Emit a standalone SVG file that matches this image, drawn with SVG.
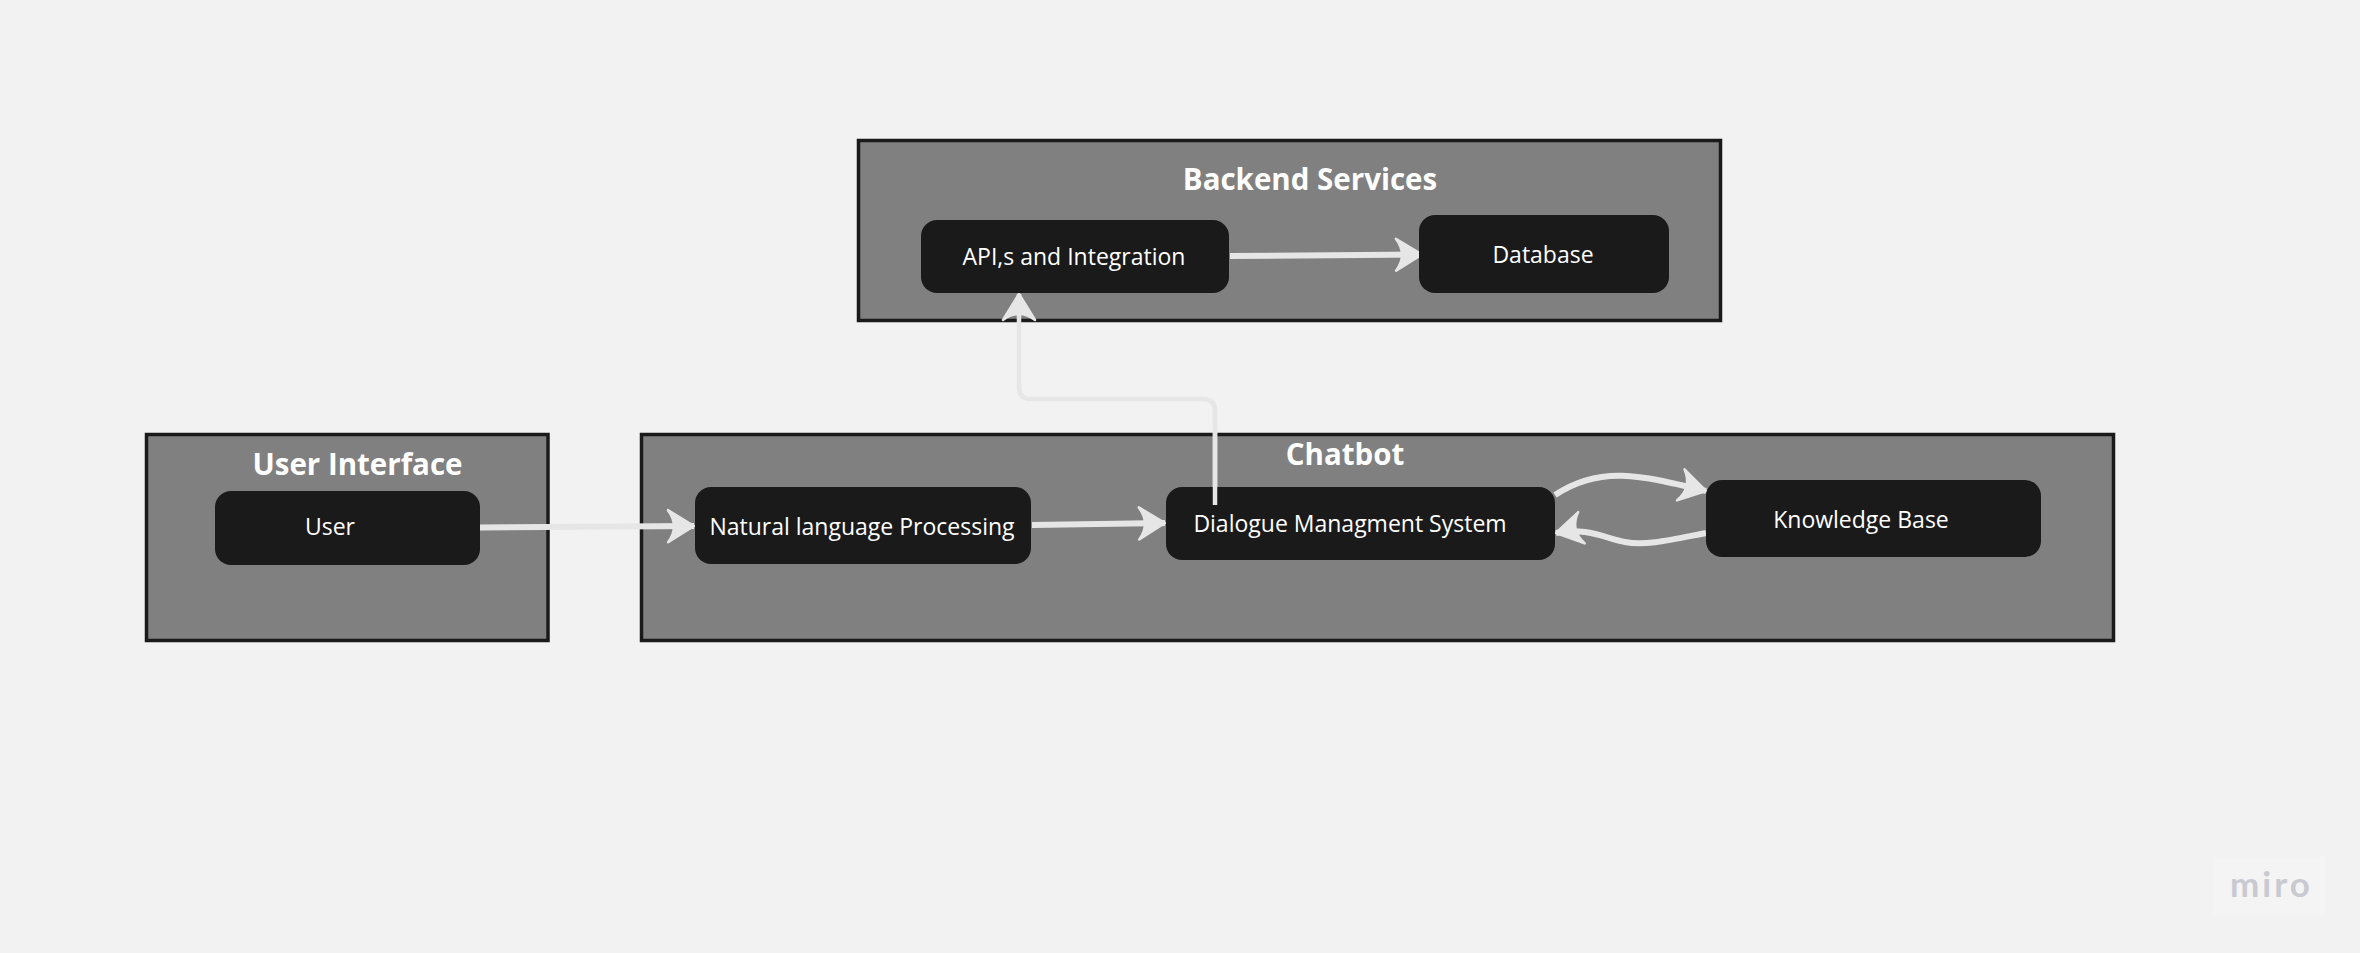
<svg xmlns="http://www.w3.org/2000/svg" width="2360" height="953" viewBox="0 0 2360 953">
<style>
.bg{fill:#f2f2f2}
.group{fill:#808080;stroke:#1a1a1a;stroke-width:3.500}
.node{fill:#1a1a1a}
.label{font-family:"Open Sans","Noto Sans",sans-serif;font-size:23px;fill:#fff}
.title{font-family:"Open Sans","Noto Sans",sans-serif;font-size:29.500px;font-weight:700;fill:#fff}
.conn{fill:none;stroke:#e6e6e6;stroke-width:6}
.thin{stroke-width:4.500}
.logo{font-family:"Lato",sans-serif;font-size:35px;font-weight:700;fill:#c9c9d2;letter-spacing:3px}
</style>
<defs>
<marker id="arrow" markerUnits="userSpaceOnUse" viewBox="-32 -20 34 40" refX="0" refY="0" markerWidth="34" markerHeight="40" orient="auto">
<path d="M0 0 L-26 -16 Q-14 0 -26 16 Z" fill="#e6e6e6" stroke="#e6e6e6" stroke-width="2.500" stroke-linejoin="round"/>
</marker>
</defs>
<rect class="bg" width="2360" height="953"/>
<g id="group-backend"><rect class="group" x="858.500" y="140.500" width="862" height="180"/><text class="title" x="1310" y="190" text-anchor="middle">Backend Services</text></g>
<g id="group-ui"><rect class="group" x="146.500" y="434.500" width="401.500" height="206"/><text class="title" x="357.500" y="475" text-anchor="middle">User Interface</text></g>
<g id="group-chatbot"><rect class="group" x="641.500" y="434.500" width="1472" height="206"/><text class="title" x="1345" y="465" text-anchor="middle">Chatbot</text></g>
<g id="connectors">
<path class="conn" d="M480 527.500 L694 526" marker-end="url(#arrow)"/>
<path class="conn" d="M1032 525 L1165 523" marker-end="url(#arrow)"/>
<path class="conn" d="M1230 256 L1422 254.500" marker-end="url(#arrow)"/>
<path class="conn thin" d="M1215 505 V411 Q1215 399 1203 399 H1031 Q1019 399 1019 387 V294" marker-end="url(#arrow)"/>
<path class="conn" d="M1555 495 C1600 465 1640 475 1706 491" marker-end="url(#arrow)"/>
<path class="conn" d="M1706 533 C1670 540 1645 546 1625 542 C1605 538 1585 527 1556 533" marker-end="url(#arrow)"/>
</g>
<g id="node-user"><rect class="node" x="215" y="491" width="265" height="74" rx="16"/><text class="label" x="330" y="535" text-anchor="middle">User</text></g>
<g id="node-nlp"><rect class="node" x="695" y="487" width="336" height="77" rx="16"/><text class="label" x="862" y="535" text-anchor="middle">Natural language Processing</text></g>
<g id="node-dms"><rect class="node" x="1166" y="487" width="389" height="73" rx="16"/><text class="label" x="1350" y="532" text-anchor="middle">Dialogue Managment System</text></g>
<g id="node-kb"><rect class="node" x="1706" y="480" width="335" height="77" rx="16"/><text class="label" x="1861" y="528" text-anchor="middle">Knowledge Base</text></g>
<g id="node-api"><rect class="node" x="921" y="220" width="308" height="73" rx="16"/><text class="label" x="1074" y="265" text-anchor="middle">API,s and Integration</text></g>
<g id="node-db"><rect class="node" x="1419" y="215" width="250" height="78" rx="16"/><text class="label" x="1543" y="263" text-anchor="middle">Database</text></g>
<g id="logo"><rect x="2213" y="857" width="112" height="59" fill="#f4f4f4"/><text class="logo" x="2230" y="897">miro</text></g>
<path class="conn thin" d="M1215 505 V420" />
</svg>
